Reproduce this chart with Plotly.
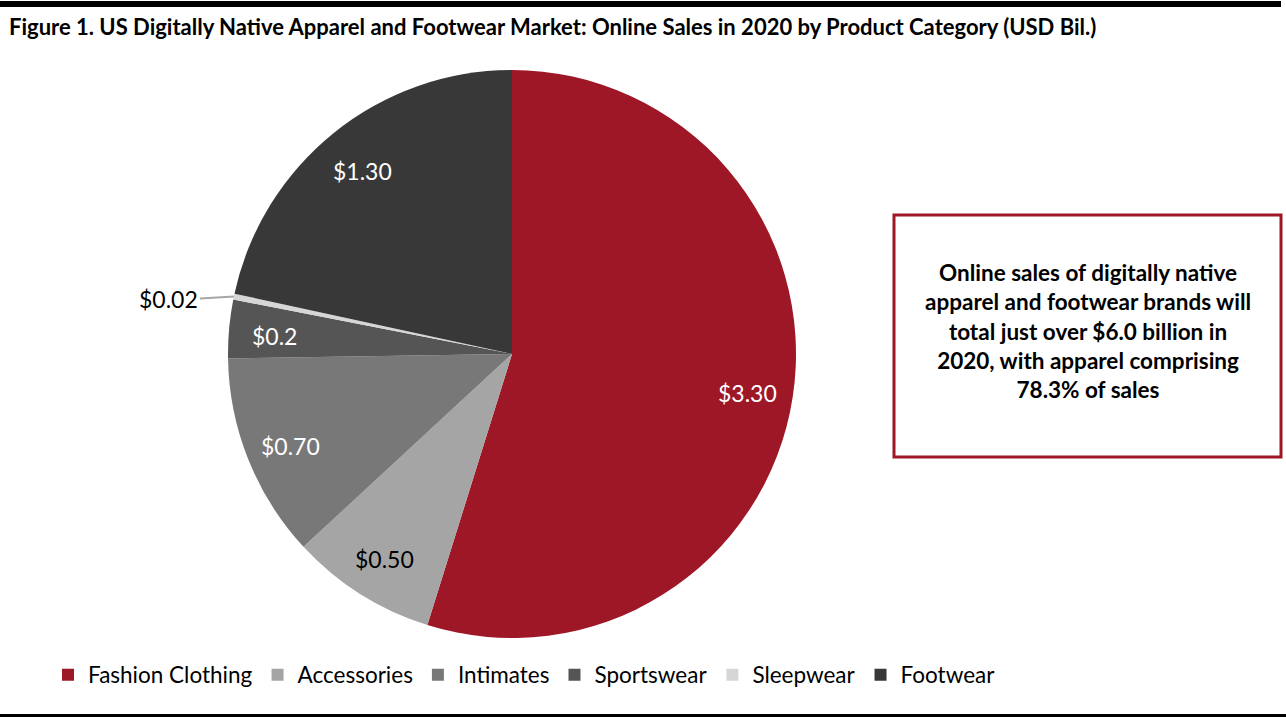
import math
import plotly.graph_objects as go

categories = ["Fashion Clothing", "Accessories", "Intimates", "Sportswear", "Sleepwear", "Footwear"]
values = [3.30, 0.50, 0.70, 0.2, 0.02, 1.30]
value_labels = ["$3.30", "$0.50", "$0.70", "$0.2", "$0.02", "$1.30"]
colors = ["#9E1727", "#A5A5A5", "#787878", "#555555", "#D6D6D6", "#383838"]
label_colors = ["white", "black", "white", "white", "black", "white"]

W, H = 1286, 718
FONT = "Lato"

# pie geometry (pixels)
cx, cy, R = 512, 354, 284
dom_x = [(cx - R) / W, (cx + R) / W]
dom_y = [(H - (cy + R)) / H, (H - (cy - R)) / H]

fig = go.Figure()
fig.add_trace(go.Pie(
    labels=categories, values=values, sort=False, direction="clockwise", rotation=0,
    marker=dict(colors=colors, line=dict(width=0)),
    textinfo="none", hoverinfo="label+value",
    domain=dict(x=dom_x, y=dom_y),
))

annotations = []
total = sum(values)
cum = 0.0
for i, v in enumerate(values):
    mid = (cum + v / 2) / total * 2 * math.pi
    cum += v
    if i == 4:
        ex = cx + R * math.sin(mid)
        ey = cy - R * math.cos(mid)
        annotations.append(dict(
            x=ex / W, y=(H - ey) / H, xref="paper", yref="paper",
            text=value_labels[i], showarrow=True, arrowhead=0, arrowwidth=2,
            arrowcolor="#A6A6A6", ax=-34, ay=2, xanchor="right", yanchor="middle",
            font=dict(family=FONT, size=23, color=label_colors[i]),
        ))
    else:
        r = 0.84 * R
        px = cx + r * math.sin(mid)
        py = cy - r * math.cos(mid) + 3
        annotations.append(dict(
            x=px / W, y=(H - py) / H, xref="paper", yref="paper",
            text=value_labels[i], showarrow=False, xanchor="center", yanchor="middle",
            font=dict(family=FONT, size=23, color=label_colors[i]),
        ))

annotations.append(dict(
    x=7 / W, y=(H - 27) / H, xref="paper", yref="paper", showarrow=False,
    xanchor="left", yanchor="middle",
    text="<b>Figure 1. US Digitally Native Apparel and Footwear Market: Online Sales in 2020 by Product Category (USD Bil.)</b>",
    font=dict(family=FONT, size=22, color="black"),
))

box_text = ("<b>Online sales of digitally native<br>apparel and footwear brands will<br>"
            "total just over $6.0 billion in<br>2020, with apparel comprising<br>78.3% of sales</b>")
annotations.append(dict(
    x=1088 / W, y=(H - 331) / H, xref="paper", yref="paper", showarrow=False,
    xanchor="center", yanchor="middle", align="center", text=box_text,
    font=dict(family=FONT, size=22.5, color="black"),
))

shapes = [
    dict(type="rect", xref="paper", yref="paper", x0=894 / W, x1=1281 / W,
         y0=(H - 457) / H, y1=(H - 215) / H, line=dict(color="#9E1727", width=3)),
    dict(type="line", xref="paper", yref="paper", x0=0, x1=1281 / W, y0=(H - 4) / H, y1=(H - 4) / H,
         line=dict(color="black", width=6)),
    dict(type="line", xref="paper", yref="paper", x0=0, x1=1, y0=(H - 715.5) / H, y1=(H - 715.5) / H,
         line=dict(color="black", width=3)),
]

fig.update_layout(
    width=W, height=H, margin=dict(l=0, r=0, t=0, b=0),
    paper_bgcolor="white", plot_bgcolor="white",
    annotations=annotations, shapes=shapes,
    showlegend=True,
    legend=dict(orientation="h", x=48 / W, y=(H - 675) / H, xanchor="left", yanchor="middle",
                font=dict(family=FONT, size=22.5, color="black"), itemwidth=30,
                traceorder="normal", tracegroupgap=0),
)

fig.write_html("out.html", config={"displayModeBar": False},
               post_script="document.body.style.margin='0px';document.body.style.overflow='hidden';")
